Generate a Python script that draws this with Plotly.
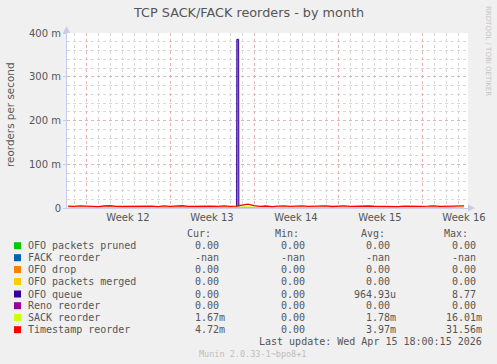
import plotly.graph_objects as go

# ---------------- data ----------------
# time axis in days, 0 = start of Week 12
days = [-1.5 + 0.5 * i for i in range(67)]
timestamp_m = [4.2, 3.6, 4.8, 3.9, 4.4, 3.1, 4.6, 5.2, 3.8, 4.0, 3.3, 4.9, 4.1, 3.7, 4.5, 3.2,
               4.8, 3.9, 4.3, 5.1, 3.6, 4.0, 3.4, 4.7, 4.2, 3.5, 4.9, 3.8, 4.4, 6.8, 8.9, 5.2,
               3.9, 4.6, 3.3, 4.1, 4.8, 3.7, 4.2, 5.0, 3.6, 4.4, 3.9, 4.7, 3.4, 4.1, 4.9, 3.8,
               4.3, 3.5, 4.6, 4.0, 3.7, 4.8, 4.2, 3.3, 4.5, 3.9, 4.7, 3.6, 4.1, 5.0, 3.8, 4.4,
               3.9, 4.6, 4.7]
sack_m = [1.7, 1.9, 1.5, 2.0, 1.6, 1.8, 1.4, 2.1, 1.7, 1.8, 1.5, 1.9, 1.6, 2.0, 1.7, 1.5,
          1.9, 1.8, 1.6, 2.0, 1.7, 1.5, 1.8, 1.9, 1.6, 1.7, 2.0, 1.5, 1.8, 2.6, 3.1, 1.9,
          1.7, 1.8, 1.6, 1.9, 1.7, 1.5, 1.8, 2.0, 1.6, 1.7, 1.9, 1.8, 1.5, 1.7, 1.9, 1.6,
          1.8, 1.7, 1.5, 1.9, 1.8, 1.6, 1.7, 2.0, 1.6, 1.8, 1.7, 1.9, 1.5, 1.8, 1.7, 1.6,
          1.8, 1.7, 1.67]
ofo_queue_days = [-1.5, 12.55, 12.57, 12.72, 12.74, 31.5]
ofo_queue_m = [0, 0, 385.6, 385.6, 0, 0]

x_range = [-1.583, 31.83]
week_ticks = [0, 7, 14, 21, 28]
week_labels = ["Week 12", "Week 13", "Week 14", "Week 15", "Week 16"]
y_ticks = [0, 0.1, 0.2, 0.3, 0.4]
y_labels = ["0", "100 m", "200 m", "300 m", "400 m"]

legend_names = ["OFO packets pruned", "FACK reorder", "OFO drop", "OFO packets merged",
                "OFO queue", "Reno reorder", "SACK reorder", "Timestamp reorder"]
legend_colors = ["#00CC00", "#0066B3", "#FF8000", "#FFCC00",
                 "#330099", "#990099", "#CCFF00", "#FF0000"]
cur_vals = ["0.00 ", "-nan ", "0.00 ", "0.00 ", "0.00 ", "0.00 ", "1.67m", "4.72m"]
min_vals = ["0.00 ", "-nan ", "0.00 ", "0.00 ", "0.00 ", "0.00 ", "0.00 ", "0.00 "]
avg_vals = ["0.00 ", "-nan ", "0.00 ", "0.00 ", "964.93u", "0.00 ", "1.78m", "3.97m"]
max_vals = ["0.00 ", "-nan ", "0.00 ", "0.00 ", "8.77 ", "0.00 ", "16.01m", "31.56m"]

# ---------------- figure ----------------
W, H = 497, 364
L, R, T, B = 67, 468, 33, 208


def px(x):
    return (x - L) / (R - L)


def py(y):
    return (B - y) / (B - T)


fig = go.Figure()
zeros = [0] * len(days)
for name, col in [("OFO packets pruned", "#00CC00"), ("OFO drop", "#FF8000"),
                  ("OFO packets merged", "#FFCC00")]:
    fig.add_trace(go.Scatter(x=days, y=zeros, mode="lines", line=dict(color=col, width=1),
                             name=name, showlegend=False, hoverinfo="skip"))
fig.add_trace(go.Scatter(x=ofo_queue_days, y=[v / 1000 for v in ofo_queue_m], mode="lines",
                         line=dict(color="#330099", width=1), fill="tozeroy",
                         fillcolor="rgba(120,90,210,0.8)", name="OFO queue",
                         showlegend=False, hoverinfo="skip"))
fig.add_trace(go.Scatter(x=days, y=zeros, mode="lines", line=dict(color="#cc88dd", width=1),
                         name="Reno reorder", showlegend=False, hoverinfo="skip"))
fig.add_trace(go.Scatter(x=days, y=[v / 1000 for v in sack_m], mode="lines",
                         line=dict(color="#CCFF00", width=1.3), name="SACK reorder",
                         showlegend=False, hoverinfo="skip"))
fig.add_trace(go.Scatter(x=days, y=[v / 1000 for v in timestamp_m], mode="lines",
                         line=dict(color="#FF0000", width=1.3), name="Timestamp reorder",
                         showlegend=False, hoverinfo="skip"))

text_col = "#555555"
axis_col = "#c8cce8"
major_grid = "rgba(240,150,150,0.55)"
minor_grid = "#d8d8d8"
fig.update_layout(
    width=W, height=H,
    margin=dict(l=L, r=W - R, t=T, b=H - B, pad=0),
    paper_bgcolor="#F0F0F0", plot_bgcolor="#FFFFFF",
    font=dict(family="DejaVu Sans", size=10, color=text_col),
    showlegend=False,
)
fig.update_xaxes(
    range=x_range, tickvals=week_ticks, ticktext=week_labels,
    ticklabelshift=42, ticks="", showline=True, linecolor=axis_col, linewidth=1,
    showgrid=True, gridcolor=major_grid, griddash="dot", gridwidth=1,
    zeroline=False, tickfont=dict(size=10, color=text_col),
    minor=dict(dtick=1, tick0=0, showgrid=True, gridcolor=minor_grid, griddash="dot", ticks=""),
    fixedrange=True,
)
fig.update_yaxes(
    range=[0, 0.4], tickvals=y_ticks, ticktext=y_labels,
    ticks="outside", ticklen=3, tickcolor=axis_col, showline=True, linecolor=axis_col,
    linewidth=1, showgrid=True, gridcolor=major_grid, griddash="dot",
    zeroline=False, tickfont=dict(size=10, color=text_col),
    minor=dict(dtick=0.02, tick0=0, showgrid=True, gridcolor=minor_grid, griddash="dot", ticks=""),
    fixedrange=True,
)

ann = []
shapes = []


def text(t, x, y, xanchor="center", font=None, angle=0):
    ann.append(dict(text=t, x=px(x), y=py(y), xref="paper", yref="paper",
                    xanchor=xanchor, yanchor="middle", showarrow=False, textangle=angle,
                    font=font, borderpad=0))


text("TCP SACK/FACK reorders - by month", 248, 13,
     font=dict(family="DejaVu Sans", size=12.8, color=text_col))
text("reorders per second", 10, 115, font=dict(family="DejaVu Sans", size=10.4, color=text_col),
     angle=-90)
text("RRDTOOL / TOBI OETIKER", 488, 51, font=dict(family="DejaVu Sans", size=7, color="#c4c4c4"),
     angle=90)

# axis arrows
shapes.append(dict(type="path", xref="paper", yref="paper",
                   path=f"M {px(63)} {py(33)} L {px(70)} {py(33)} L {px(66.5)} {py(26)} Z",
                   fillcolor=axis_col, line=dict(width=0)))
shapes.append(dict(type="path", xref="paper", yref="paper",
                   path=f"M {px(468)} {py(204.5)} L {px(468)} {py(211.5)} L {px(475)} {py(208)} Z",
                   fillcolor=axis_col, line=dict(width=0)))

mono = "DejaVu Sans Mono"
mono_font = dict(family=mono, size=10, color=text_col)
for label, right in [("Cur:", 212), ("Min:", 300), ("Avg:", 386), ("Max:", 469)]:
    text(label, right, 233.5, xanchor="right", font=mono_font)
row_y = [245.7, 257.7, 269.5, 281.5, 294, 305.7, 317.5, 329.7]
for i in range(len(legend_names)):
    yy = row_y[i]
    shapes.append(dict(type="rect", xref="paper", yref="paper",
                       x0=px(14), x1=px(21), y0=py(yy - 3.5), y1=py(yy + 3.5),
                       fillcolor=legend_colors[i], line=dict(width=0)))
    text(legend_names[i], 26.5, yy, xanchor="left", font=mono_font)
    for vals, right in [(cur_vals, 226), (min_vals, 312), (avg_vals, 397), (max_vals, 483)]:
        text(vals[i].replace(" ", "&nbsp;"), right, yy, xanchor="right", font=mono_font)
text("Last update:&nbsp;Wed Apr 15 18:00:15 2026", 483, 341.5, xanchor="right", font=mono_font)
text("Munin 2.0.33-1~bpo8+1", 252, 353.5, font=dict(family=mono, size=8.5, color="#bdbdbd"))

fig.update_layout(annotations=ann, shapes=shapes)
fig.write_html("out.html")
